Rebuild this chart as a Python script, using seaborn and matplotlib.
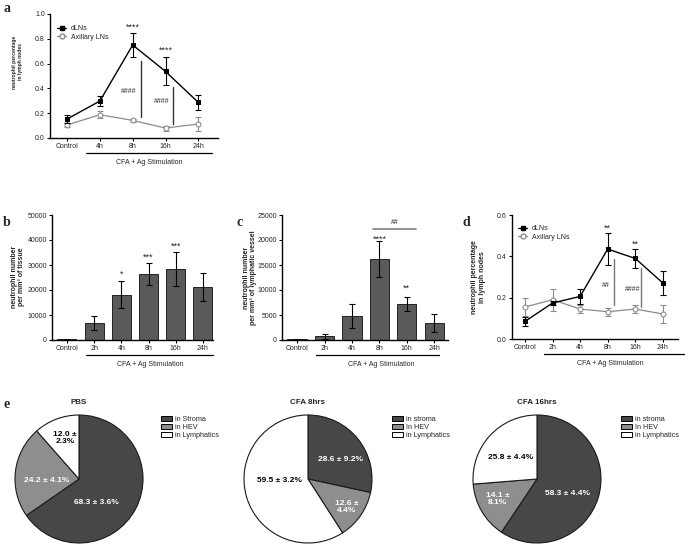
import matplotlib
matplotlib.use("Agg")
import matplotlib.pyplot as plt
import seaborn as sns
from matplotlib.lines import Line2D
from matplotlib.patches import Patch

# ---- panel a: neutrophil % in lymph nodes (4 time points)
cats_a = ["Control", "4h", "8h", "16h", "24h"]
dln_a = [0.153, 0.298, 0.750, 0.537, 0.287]
dln_a_err = [0.035, 0.040, 0.100, 0.113, 0.058]
axl_a = [0.105, 0.188, 0.142, 0.080, 0.113]
axl_a_err = [0.020, 0.030, 0.010, 0.020, 0.056]

# ---- panels b / c / d share the 6 time points
cats_6 = ["Control", "2h", "4h", "8h", "16h", "24h"]
tissue = [250, 6700, 18100, 26600, 28300, 21200]
tissue_err = [150, 2800, 5400, 4400, 6800, 5600]
lymph = [150, 800, 4850, 16200, 7250, 3500]
lymph_err = [80, 500, 2450, 3600, 1350, 1800]
dln_d = [0.085, 0.174, 0.206, 0.435, 0.390, 0.271]
dln_d_err = [0.020, 0.010, 0.035, 0.077, 0.046, 0.056]
axl_d = [0.155, 0.190, 0.145, 0.132, 0.145, 0.121]
axl_d_err = [0.045, 0.053, 0.020, 0.020, 0.020, 0.045]

# ---- panel e: pies
pie_titles = ["PBS", "CFA 8hrs", "CFA 16hrs"]
pie_labels = [["in Stroma", "in HEV", "in Lymphatics"],
              ["in stroma", "In HEV", "in Lymphatics"],
              ["in stroma", "In HEV", "in Lymphatics"]]
pie_mean = [[68.3, 24.2, 12.0], [28.6, 12.6, 59.5], [58.3, 14.1, 25.8]]
pie_sd = [[3.6, 4.1, 2.3], [9.2, 4.4, 3.2], [4.4, 8.1, 4.4]]
pie_wrap = [[False, False, True], [False, True, False], [False, True, False]]
pie_colors = ["#474747", "#8e8e8e", "white"]

# ---- layout (pixels)
W, H = 685, 546
sns.set_style("ticks")
plt.rcParams["font.family"] = ["Liberation Sans", "DejaVu Sans"]
fig = plt.figure(figsize=(W / 100, H / 100), dpi=100)


def add_ax(l, t, r, b):
    return fig.add_axes([l / W, 1 - b / H, (r - l) / W, (b - t) / H])


def style(ax):
    sns.despine(ax=ax)
    for s in ["left", "bottom"]:
        ax.spines[s].set_linewidth(1.0)
        ax.spines[s].set_color("black")
    ax.tick_params(length=2.2, width=0.8, labelsize=5, pad=1.5, color="black")
    ax.set_xlabel("")
    ax.set_ylabel("")


def stim_line(ax, x0, x1, xt):
    tr = ax.get_xaxis_transform()
    ax.plot([x0, x1], [-0.12, -0.12], transform=tr, color="black", lw=0.9, clip_on=False)
    ax.text(xt, -0.195, "CFA + Ag Stimulation", transform=tr, ha="center", va="center", fontsize=5)


def mark(ax, x, y, s, size=5):
    ax.text(x, y, s, ha="center", va="center", fontsize=size)


def line_panel(ax, cats, dln, dln_err, axl, axl_err):
    n = len(cats)
    ax.errorbar(range(n), axl, yerr=axl_err, fmt="none", ecolor="#8c8c8c",
                elinewidth=0.8, capsize=2.2, capthick=0.8)
    sns.pointplot(x=cats, y=axl, color="#8c8c8c", markers="o", markersize=3.5,
                  linewidth=0.9, markerfacecolor="white", markeredgewidth=0.8, ax=ax)
    ax.errorbar(range(n), dln, yerr=dln_err, fmt="none", ecolor="black",
                elinewidth=0.8, capsize=2.2, capthick=0.8)
    sns.pointplot(x=cats, y=dln, color="black", markers="s", markersize=3.5,
                  linewidth=1.0, ax=ax)
    handles = [Line2D([], [], color="black", marker="s", markersize=3.5, lw=0.9),
               Line2D([], [], color="#8c8c8c", marker="o", markersize=3.5, lw=0.9,
                      markerfacecolor="white")]
    return handles


def bar_panel(ax, cats, vals, err):
    sns.barplot(x=cats, y=vals, color="#5a5a5a", saturation=1, width=0.7,
                edgecolor="#222222", linewidth=0.7, errorbar=None, ax=ax)
    ax.errorbar(range(len(cats)), vals, yerr=err, fmt="none", ecolor="black",
                elinewidth=0.8, capsize=2.2, capthick=0.8)


def ylab(x, y, text, size=5):
    fig.text(x / W, 1 - y / H, text, rotation=90, ha="center", va="center",
             multialignment="center", fontsize=size, fontweight="bold", linespacing=1.15)


def leg_lines(ax, handles, x, y):
    ax.legend(handles, ["dLNs", "Axillary LNs"], loc="upper left",
              bbox_to_anchor=(x / W, 1 - y / H), bbox_transform=fig.transFigure,
              frameon=False, fontsize=5, handlelength=1.3, handletextpad=0.7,
              labelspacing=0.25, borderpad=0, borderaxespad=0)


# panel a
ax = add_ax(50, 14, 218, 138)
h = line_panel(ax, cats_a, dln_a, dln_a_err, axl_a, axl_a_err)
ax.set_ylim(0, 1.0)
ax.set_yticks([0, 0.2, 0.4, 0.6, 0.8, 1.0])
ax.set_xlim(-0.52, 4.6)
style(ax)
leg_lines(ax, h, 57, 25)
mark(ax, 2, 0.89, "****", 6.5)
mark(ax, 3, 0.71, "****", 6.5)
mark(ax, 1.88, 0.375, "####")
mark(ax, 2.9, 0.295, "####")
ax.plot([2.24, 2.24], [0.17, 0.62], color="#333333", lw=1.0)
ax.plot([3.24, 3.24], [0.11, 0.415], color="#333333", lw=1.0)
stim_line(ax, 0.58, 4.42, 2.5)
ylab(17.5, 62, "neutrophil percentage\nin lymph nodes", size=3.6)

# panel b
ax = add_ax(52, 215, 213, 340)
bar_panel(ax, cats_6, tissue, tissue_err)
ax.set_ylim(0, 50000)
ax.set_yticks(range(0, 50001, 10000))
ax.set_xlim(-0.55, 5.37)
style(ax)
mark(ax, 2, 26500, "*", 6.5)
mark(ax, 3, 33200, "***", 6.5)
mark(ax, 4, 37500, "***", 6.5)
stim_line(ax, 0.7, 5.37, 3.05)
ylab(18, 277, "neutrophil number\nper mm³ of tissue")

# panel c
ax = add_ax(282, 215, 448, 340)
bar_panel(ax, cats_6, lymph, lymph_err)
ax.set_ylim(0, 25000)
ax.set_yticks(range(0, 25001, 5000))
ax.set_xlim(-0.55, 5.5)
style(ax)
mark(ax, 3, 20200, "****", 6.5)
mark(ax, 4, 10400, "**", 6.5)
ax.plot([2.75, 4.32], [22300, 22300], color="#8a8a8a", lw=1.3)
mark(ax, 3.58, 23500, "##")
stim_line(ax, 0.69, 5.18, 3.07)
ylab(250, 278, "neutrophil number\nper mm³ of lymphatic vessel")

# panel d
ax = add_ax(512, 215, 678, 339)
h = line_panel(ax, cats_6, dln_d, dln_d_err, axl_d, axl_d_err)
ax.set_ylim(0, 0.6)
ax.set_yticks([0, 0.2, 0.4, 0.6])
ax.set_xlim(-0.47, 5.55)
style(ax)
leg_lines(ax, h, 518, 225)
mark(ax, 3, 0.538, "**", 6.5)
mark(ax, 4, 0.458, "**", 6.5)
mark(ax, 2.93, 0.26, "##")
mark(ax, 3.89, 0.239, "####")
ax.plot([3.22, 3.22], [0.166, 0.387], color="#777777", lw=1.0)
ax.plot([4.22, 4.22], [0.155, 0.343], color="#777777", lw=1.0)
stim_line(ax, 0.69, 5.8, 3.08)
ylab(478.5, 277, "neutrophil percentage\nin lymph nodes")

# panel e: pies
pie_cx = [79, 308, 537]
pie_cy = 479
pie_r = 64
label_xy = [[(0.27, -0.37), (-0.50, -0.02), (-0.22, 0.64)],
            [(0.50, 0.30), (0.61, -0.44), (-0.44, -0.03)],
            [(0.48, -0.23), (-0.62, -0.31), (-0.42, 0.34)]]
legend_x = [161, 392, 621]
for i in range(3):
    cx = pie_cx[i]
    pad = pie_r * 1.05
    ax = add_ax(cx - pad, pie_cy - pad, cx + pad, pie_cy + pad)
    wedges, _ = ax.pie(pie_mean[i], colors=pie_colors, startangle=90, counterclock=False,
                       wedgeprops=dict(edgecolor="#1a1a1a", linewidth=0.8))
    ax.set_xlim(-1.05, 1.05)
    ax.set_ylim(-1.05, 1.05)
    ax.axis("off")
    for j in range(3):
        sep = " ±\n" if pie_wrap[i][j] else " ± "
        txt = f"{pie_mean[i][j]:.1f}{sep}{pie_sd[i][j]:.1f}%"
        ax.text(*label_xy[i][j], txt, ha="center", va="center", fontsize=6,
                fontweight="bold", color="black" if j == 2 else "white", linespacing=1.1)
    fig.text(cx / W, 1 - 403 / H, pie_titles[i], ha="center", va="center",
             fontsize=5.8, fontweight="bold")
    handles = [Patch(facecolor=c, edgecolor="black", linewidth=0.7) for c in pie_colors]
    ax.legend(handles, pie_labels[i], loc="upper left",
              bbox_to_anchor=(legend_x[i] / W, 1 - 416 / H), bbox_transform=fig.transFigure,
              frameon=False, fontsize=5.2, handlelength=1.5, handleheight=0.7,
              handletextpad=0.5, labelspacing=0.15, borderpad=0, borderaxespad=0)

# panel letters
for letter, (x, y) in zip("abcde", [(7, 9), (7, 222), (240, 222), (466, 222), (7, 405)]):
    fig.text(x / W, 1 - y / H, letter, fontsize=10, fontweight="bold",
             family=["Liberation Serif", "DejaVu Serif"], ha="center", va="center")

fig.savefig("out.png", dpi=100)
